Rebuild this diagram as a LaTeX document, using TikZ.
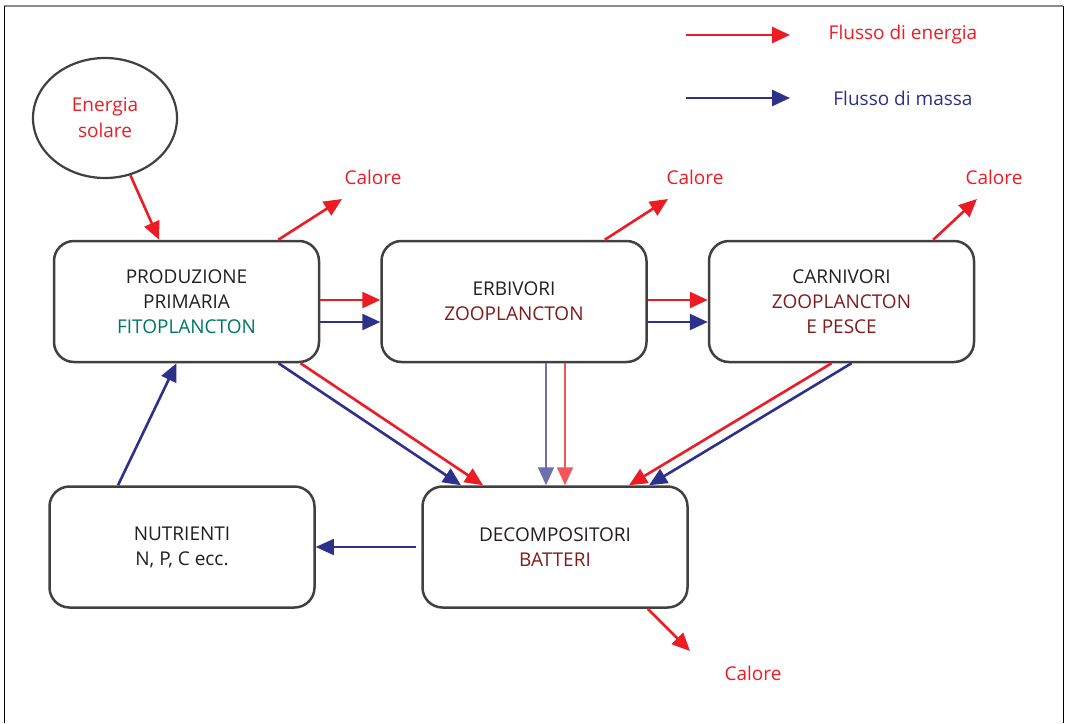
\documentclass[tikz,border=0pt]{standalone}
\usepackage{fontspec}
\setmainfont{Open Sans}
\usepackage{tikz}
\usetikzlibrary{arrows.meta,shapes.geometric}

\definecolor{energia}{RGB}{237,28,36}
\definecolor{massa}{RGB}{46,49,140}
\definecolor{fito}{RGB}{0,118,106}
\definecolor{zoo}{RGB}{128,27,30}
\definecolor{testo}{RGB}{35,31,32}

\begin{document}
\begin{tikzpicture}[x=1pt,y=-1pt,
  box/.style={shape=rectangle, rounded corners=20pt, draw=black!75, line width=2.5pt,
    minimum width=265pt, minimum height=121pt, align=center, text=testo,
    font=\fontsize{19}{25}\selectfont},
  lbl/.style={font=\fontsize{19}{25}\selectfont},
  en/.style={draw=energia, line width=2.6pt, -{Triangle[length=18pt,width=16pt]}},
  ma/.style={draw=massa, line width=2.6pt, -{Triangle[length=18pt,width=16pt]}}]
\useasboundingbox (0,0) rectangle (1065,723);

% cornice
\draw[black!45, line width=2pt] (4,6) -- (1063,6);
\draw[black, line width=0.8pt] (4,6) -- (4,723);
\draw[black, line width=0.8pt] (1063,6) -- (1063,723);

% legenda
\coordinate (l1) at (686,35);
\coordinate (l2) at (686,98);
\node[lbl, text=energia] (le) at (903,35) {Flusso di energia};
\node[lbl, text=massa] (lm) at (903,98) {Flusso di massa};
\draw[en] (l1) -- ++(104,0);
\draw[ma] (l2) -- ++(104,0);

% nodi
\node[shape=ellipse, draw=black!75, line width=2.2pt, minimum width=144pt, minimum height=120pt,
  align=center, text=energia, font=\fontsize{19}{26}\selectfont] (S) at (105,118) {Energia\\solare};
\node[box] (P) at (186.5,301.5) {PRODUZIONE\\PRIMARIA\\\textcolor{fito}{FITOPLANCTON}};
\node[box] (E) at (514,301.5) {ERBIVORI\\\textcolor{zoo}{ZOOPLANCTON}};
\node[box] (C) at (841.5,301.5) {CARNIVORI\\\textcolor{zoo}{ZOOPLANCTON}\\\textcolor{zoo}{E PESCE}};
\node[box] (N) at (182,547) {NUTRIENTI\\N, P, C ecc.};
\node[box] (D) at (555,547) {DECOMPOSITORI\\\textcolor{zoo}{BATTERI}};

% calore
\node[lbl, text=energia] (c1) at (373,177) {Calore};
\node[lbl, text=energia] (c2) at (695,177) {Calore};
\node[lbl, text=energia] (c3) at (994,177) {Calore};
\node[lbl, text=energia] (c4) at (753,673) {Calore};
\coordinate (h1) at (342,199);
\coordinate (h2) at (668,199);
\coordinate (h3) at (977,199);
\coordinate (h4) at (690,651);

% frecce
\draw[en] (S) -- (P);
\draw[en] ([xshift=-42pt]P.north east) -- (h1);
\draw[en] ([xshift=-43pt]E.north east) -- (h2);
\draw[en] ([xshift=-42pt]C.north east) -- (h3);
\draw[en] ([xshift=-41pt]D.south east) -- (h4);

\draw[en] ([yshift=1.5pt]P.east) -- ([yshift=1.5pt]E.west);
\draw[ma] ([yshift=-20.5pt]P.east) -- ([yshift=-20.5pt]E.west);
\draw[en] ([yshift=1.5pt]E.east) -- ([yshift=1.5pt]C.west);
\draw[ma] ([yshift=-20.5pt]E.east) -- ([yshift=-20.5pt]C.west);

\draw[ma] ([xshift=92pt]P.south) -- ([xshift=-94pt]D.north);
\draw[en] ([xshift=114pt]P.south) -- ([xshift=-72pt]D.north);
\draw[ma, line width=1.6pt, draw=massa!70] ([xshift=32pt]E.south) -- ([xshift=-9pt]D.north);
\draw[en, line width=1.6pt, draw=energia!75] ([xshift=51pt]E.south) -- ([xshift=10pt]D.north);
\draw[en] ([xshift=-10pt]C.south) -- ([xshift=74pt]D.north);
\draw[ma] ([xshift=10pt]C.south) -- ([xshift=94pt]D.north);

\draw[ma, line width=1.6pt] ([xshift=-5pt]D.west) -- (N.east);
\draw[ma] ([xshift=-64pt]N.north) -- ([xshift=-10pt]P.south);
\end{tikzpicture}
\end{document}
